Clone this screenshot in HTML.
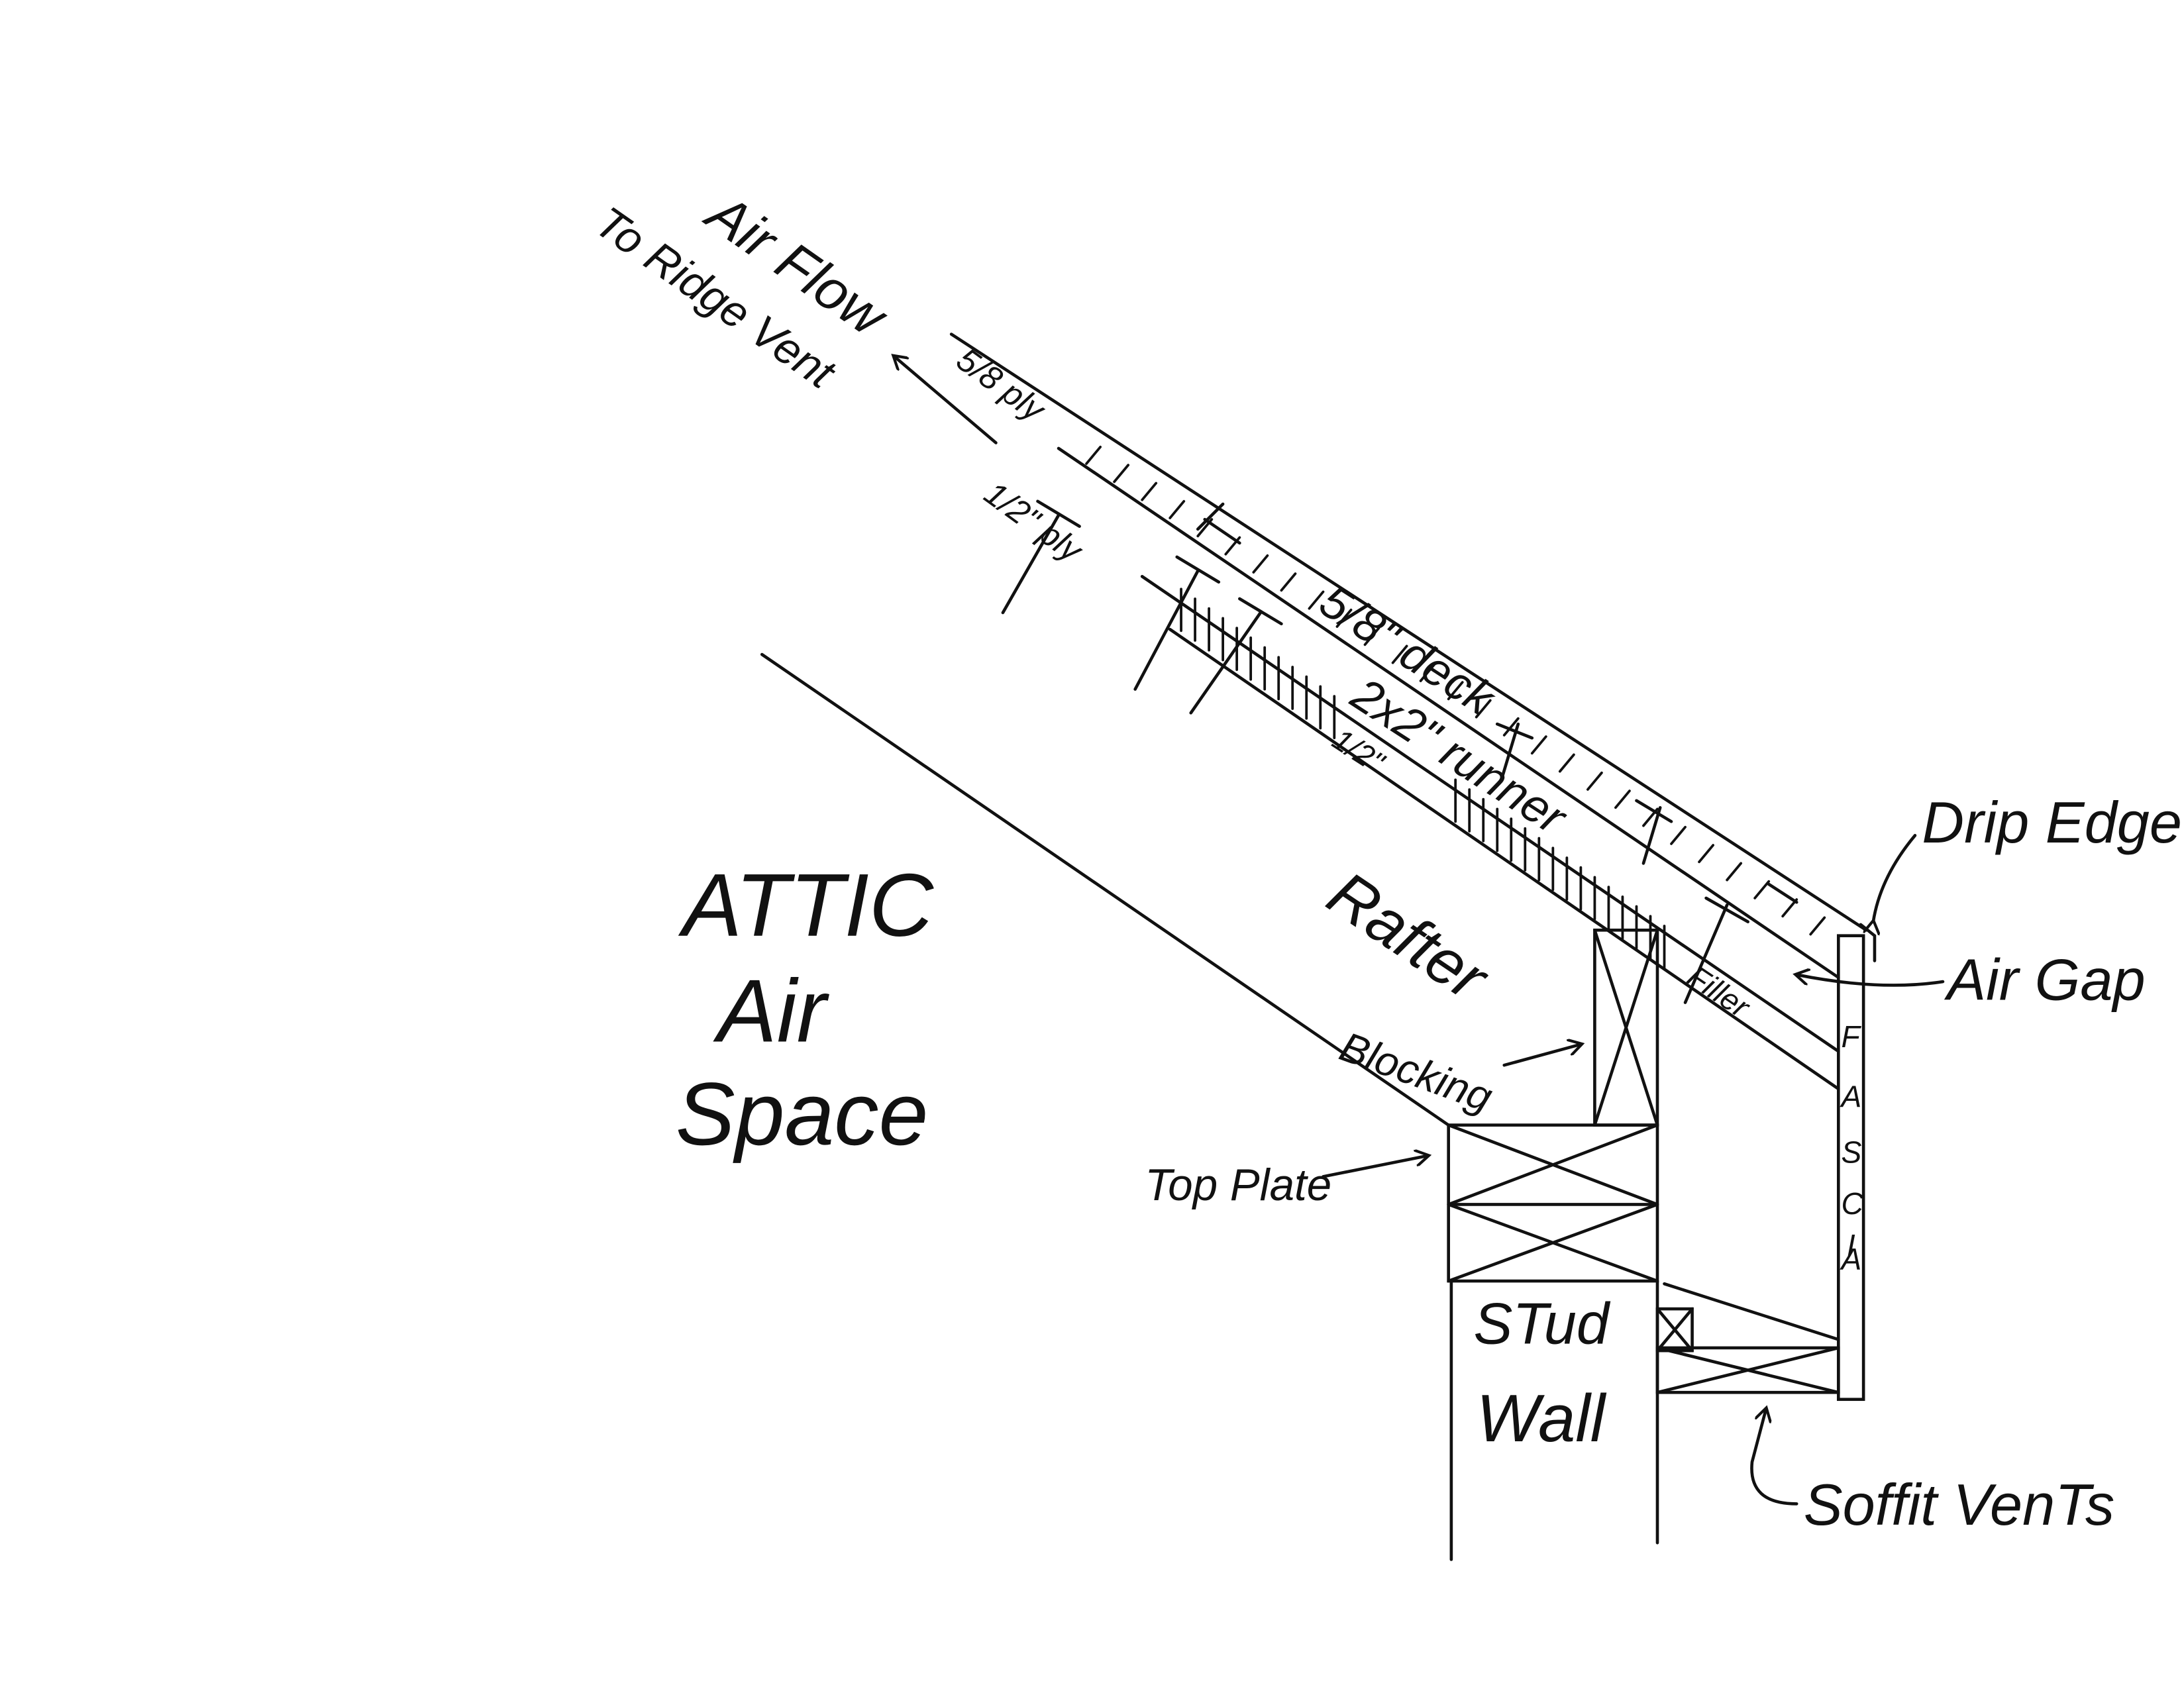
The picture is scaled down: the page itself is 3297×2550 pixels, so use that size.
<!DOCTYPE html>
<html><head><meta charset="utf-8"><style>
html,body{margin:0;padding:0;background:#fff;}
svg{display:block;}
text{font-family:"Liberation Sans",sans-serif;font-style:italic;fill:#111;}
</style></head><body>
<svg width="3297" height="2550" viewBox="0 0 1568 1213" xmlns="http://www.w3.org/2000/svg">
<defs>
<marker id="ah" markerWidth="12" markerHeight="12" refX="9" refY="6" orient="auto" markerUnits="userSpaceOnUse">
<path d="M0,0 L10,6 L0,12" fill="none" stroke="#111" stroke-width="2"/></marker>
</defs>
<g stroke="#111" stroke-width="2.2" fill="none" stroke-linecap="round">
<!-- attic line -->
<line x1="547" y1="470" x2="1040" y2="808"/>
<!-- roof layers -->
<line x1="683" y1="240" x2="1340" y2="668"/>
<line x1="760" y1="322" x2="1320" y2="702"/>
<line x1="820" y1="414" x2="1320" y2="755"/>
<line x1="840" y1="452" x2="1320" y2="782"/>
<!-- deck hatch -->
<g stroke-width="1.8">
<path d="M780,333 l10,-12 M800,346 l10,-12 M820,359 l10,-12 M840,372 l10,-12 M860,385 l10,-12 M880,398 l10,-12 M900,411 l10,-12 M920,424 l10,-12 M940,437 l10,-12 M960,450 l10,-12 M980,463 l10,-12 M1000,476 l10,-12 M1020,489 l10,-12 M1040,502 l10,-12 M1060,515 l10,-12 M1080,528 l10,-12 M1100,541 l10,-12 M1120,554 l10,-12 M1140,567 l10,-12 M1160,580 l10,-12 M1180,593 l10,-12 M1200,606 l10,-12 M1220,619 l10,-12 M1240,632 l10,-12 M1260,645 l10,-12 M1280,658 l10,-12 M1300,671 l10,-12"/>
<path d="M848,453 l0,-30 M858,460 l0,-30 M868,467 l0,-30 M878,474 l0,-30 M888,481 l0,-30 M898,488 l0,-30 M908,495 l0,-30 M918,502 l0,-30 M928,509 l0,-30 M938,516 l0,-30 M948,523 l0,-30 M958,530 l0,-30 M1045,590 l0,-30 M1055,597 l0,-30 M1065,604 l0,-30 M1075,611 l0,-30 M1085,618 l0,-30 M1095,625 l0,-30 M1105,632 l0,-30 M1115,639 l0,-30 M1125,646 l0,-30 M1135,653 l0,-30 M1145,660 l0,-30 M1155,667 l0,-30 M1165,674 l0,-30 M1175,681 l0,-30 M1185,688 l0,-30 M1195,695 l0,-30"/>
</g>
<!-- fasteners -->
<path d="M720,440 L760,370 M745,360 L775,378"/>
<path d="M815,495 L860,410 M845,400 L875,418"/>
<path d="M855,512 L905,440 M890,430 L920,448"/>
<path d="M860,380 L878,362 M865,373 L890,390"/>
<path d="M1075,520 L1100,530 M1078,560 L1090,520"/>
<path d="M1175,575 L1200,590 M1180,620 L1192,580"/>
<path d="M1270,635 L1290,648"/>
<path d="M1210,720 L1240,650 M1225,645 L1255,662"/>
<!-- fascia & drip edge -->
<rect x="1320" y="672" width="18" height="333"/>
<path d="M1336,664 L1346,672 L1346,690"/>
<!-- blocking -->
<rect x="1145" y="668" width="45" height="140"/>
<path d="M1145,668 L1190,808 M1190,668 L1145,808"/>
<!-- top plate -->
<rect x="1040" y="808" width="150" height="112"/>
<line x1="1040" y1="865" x2="1190" y2="865"/>
<path d="M1040,808 L1190,865 M1190,808 L1040,865 M1040,865 L1190,920 M1190,865 L1040,920"/>
<!-- stud wall -->
<line x1="1042" y1="920" x2="1042" y2="1120"/>
<line x1="1190" y1="920" x2="1190" y2="1108"/>
<!-- soffit -->
<line x1="1195" y1="922" x2="1320" y2="962"/>
<rect x="1190" y="940" width="25" height="30"/>
<path d="M1190,940 L1215,970 M1215,940 L1190,970"/>
<rect x="1190" y="968" width="130" height="32"/>
<path d="M1190,968 L1320,1000 M1320,968 L1190,1000"/>
<!-- arrows -->
<line x1="715" y1="318" x2="642" y2="256" marker-end="url(#ah)"/>
<path d="M1345,662 Q1350,630 1375,600" marker-start="url(#ah)"/>
<path d="M1395,705 Q1350,712 1290,700" marker-end="url(#ah)"/>
<line x1="1080" y1="765" x2="1135" y2="750" marker-end="url(#ah)"/>
<line x1="950" y1="845" x2="1025" y2="830" marker-end="url(#ah)"/>
<path d="M1290,1080 Q1255,1080 1258,1050 L1268,1012" marker-end="url(#ah)"/>
</g>
<!-- labels -->
<g font-size="30">
<text transform="translate(425,165) rotate(35)" font-size="32">To Ridge Vent</text>
<text transform="translate(505,160) rotate(35)" font-size="40">Air Flow</text>
<text transform="translate(685,262) rotate(36)" font-size="24">5/8 ply</text>
<text transform="translate(705,358) rotate(36)" font-size="24">1/2" ply</text>
<text transform="translate(945,438) rotate(33)" font-size="34">5/8" deck</text>
<text transform="translate(968,505) rotate(33)" font-size="34">2x2" runner</text>
<text transform="translate(955,535) rotate(33)" font-size="22">1/2"</text>
<text transform="translate(950,650) rotate(34)" font-size="46">Rafter</text>
<text transform="translate(1210,705) rotate(34)" font-size="22">Filler</text>
<text transform="translate(960,760) rotate(20)" font-size="30">Blocking</text>
<text x="822" y="862" font-size="32">Top Plate</text>
<text x="1380" y="605" font-size="42">Drip Edge</text>
<text x="1398" y="718" font-size="42">Air Gap</text>
<text x="490" y="672" font-size="64">ATTIC</text>
<text x="515" y="748" font-size="64">Air</text>
<text x="485" y="822" font-size="64">Space</text>
<text x="1058" y="965" font-size="42">STud</text>
<text x="1060" y="1035" font-size="48">Wall</text>
<text x="1295" y="1095" font-size="42">Soffit VenTs</text>
<g font-size="22" font-style="normal">
<text x="1322" y="752">F</text><text x="1322" y="795">A</text><text x="1322" y="835">S</text><text x="1322" y="872">C</text><text x="1326" y="902">I</text><text x="1322" y="912">A</text>
</g>
</g>
</svg>
</body></html>
